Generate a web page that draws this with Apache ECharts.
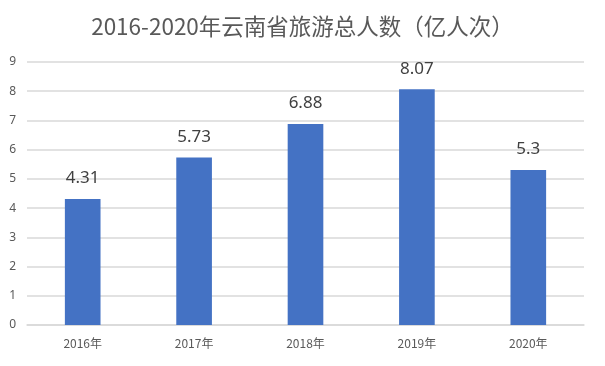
<!DOCTYPE html>
<html><head><meta charset="utf-8">
<script src="https://cdn.jsdelivr.net/npm/echarts@6/dist/echarts.min.js"></script>
<style>html,body{margin:0;padding:0;background:#fff}#c{width:605px;height:366px}</style>
</head><body><div id="c"></div>
<script>
const titleText = '2016-2020年云南省旅游总人数（亿人次）';
const categories = ['2016年','2017年','2018年','2019年','2020年'];
const values = [4.31, 5.73, 6.88, 8.07, 5.3];
const yTicks = [0,1,2,3,4,5,6,7,8,9];

const chart = echarts.init(document.getElementById('c'), null, {renderer:'canvas'});
chart.setOption({
  animation:false,
  backgroundColor:'#fff',
  title:{text:titleText,left:'center',top:10,textStyle:{fontFamily:'"Noto Sans CJK SC", sans-serif',fontSize:22.5,fontWeight:'normal',color:'#595959'}},
  grid:{left:27,right:21,top:62,bottom:41,containLabel:false},
  xAxis:{type:'category',data:categories,
    axisLine:{lineStyle:{color:'#d9d9d9',width:1.5}},axisTick:{show:false},
    axisLabel:{color:'#595959',fontSize:12,margin:12,fontFamily:'"Noto Sans CJK SC", sans-serif'}},
  yAxis:{type:'value',min:yTicks[0],max:yTicks[yTicks.length-1],interval:1,
    axisLine:{show:false},axisTick:{show:false},
    splitLine:{lineStyle:{color:'#d9d9d9',width:1.5}},
    axisLabel:{color:'#595959',fontSize:12,margin:11,fontFamily:'"Noto Sans", sans-serif'}},
  series:[{type:'bar',data:values,barWidth:'32%',itemStyle:{color:'#4472C4'},
    label:{show:true,position:'top',distance:12,fontSize:17,color:'#404040',fontFamily:'"Noto Sans", sans-serif'}}]
});
</script></body></html>
